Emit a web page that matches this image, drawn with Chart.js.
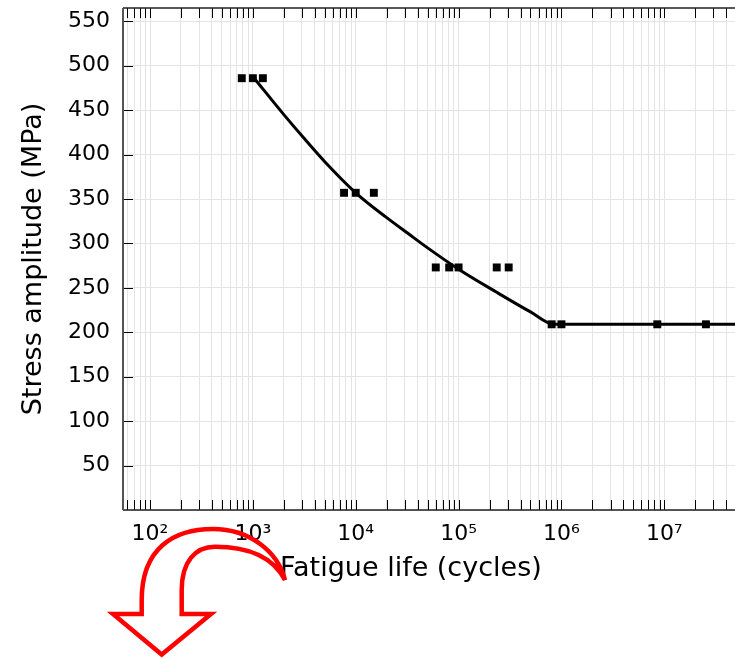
<!DOCTYPE html>
<html lang="en">
<head>
<meta charset="UTF-8" />
<title>Fatigue life</title>
<script src="https://cdn.jsdelivr.net/npm/chart.js"></script>
<style>
  body { margin: 0; background: #fff; }
  #wrap { width: 735px; height: 659px; }
  canvas { display: block; }
</style>
</head>
<body>
<div id="wrap"><canvas id="sn" width="735" height="659"></canvas></div>
<script>
// test points
const testCycles = [780, 1000, 1250, 7700, 10000, 15000, 60000, 81000, 100000, 235000, 307000, 803000, 1000000, 8550000, 25400000];
const testStress = [486, 486, 486, 357, 357, 357, 273, 273, 273, 273, 273, 209, 209, 209, 209];

// fitted S-N curve
const fitCycles = [1030, 2000, 3160, 5000, 10000, 20000, 31600, 50000, 100000, 235000, 500000, 850000, 48700000];
const fitStress = [486, 445, 418, 392, 357, 329, 312, 295, 271, 245, 223, 209, 209];

const xMin = 54.6, xMax = 48700000;
const yMin = 0, yMax = 565;
const xMajor = [1e2, 1e3, 1e4, 1e5, 1e6, 1e7];
const xMajorLabels = ['10²', '10³', '10⁴', '10⁵', '10⁶', '10⁷'];
const yStep = 50;

const xAllTicks = [];
for (let e = 1; e <= 7; e++) {
  for (let m = 1; m <= 9; m++) {
    const v = m * Math.pow(10, e);
    if (v >= xMin && v <= xMax) xAllTicks.push(v);
  }
}

Chart.defaults.font.family = "'DejaVu Sans', sans-serif";
Chart.defaults.color = '#000';

const crisp = v => Math.round(v) + 0.5;

const framePlugin = {
  id: 'frame',
  afterDatasetsDraw(chart) {
    const {ctx, chartArea: a, scales: {x, y}} = chart;
    ctx.save();
    ctx.strokeStyle = '#000';
    ctx.lineWidth = 1;
    ctx.beginPath();
    xAllTicks.forEach(v => {
      const px = crisp(x.getPixelForValue(v));
      ctx.moveTo(px, a.bottom); ctx.lineTo(px, a.bottom - 10);
      ctx.moveTo(px, a.top); ctx.lineTo(px, a.top + 10);
    });
    for (let v = yStep; v < yMax; v += yStep) {
      const py = crisp(y.getPixelForValue(v));
      ctx.moveTo(a.left, py); ctx.lineTo(a.left + 10, py);
    }
    ctx.stroke();
    // axis lines
    ctx.lineWidth = 1.5;
    ctx.strokeStyle = '#222';
    ctx.beginPath();
    ctx.moveTo(a.left, a.top); ctx.lineTo(a.right, a.top);
    ctx.moveTo(a.left, a.bottom); ctx.lineTo(a.right, a.bottom);
    ctx.stroke();
    ctx.strokeStyle = '#555';
    ctx.lineWidth = 2;
    ctx.beginPath();
    ctx.moveTo(a.left, a.top); ctx.lineTo(a.left, a.bottom);
    ctx.stroke();
    ctx.restore();
  },
  afterDraw(chart) {
    const ctx = chart.ctx;
    ctx.save();
    // x axis title, off-centre like the original
    ctx.fillStyle = '#000';
    ctx.font = "27px 'DejaVu Sans'";
    ctx.textAlign = 'left';
    ctx.textBaseline = 'middle';
    ctx.fillText('Fatigue life (cycles)', 280, 569);

    // red curved arrow
    ctx.strokeStyle = '#ff0000';
    ctx.lineWidth = 4.5;
    ctx.lineJoin = 'miter';
    ctx.miterLimit = 4;
    ctx.beginPath();
    ctx.moveTo(285, 580);
    ctx.bezierCurveTo(278, 552, 250, 529, 213, 529);
    ctx.bezierCurveTo(174, 529, 141.7, 548, 141.7, 600);
    ctx.lineTo(141.7, 614);
    ctx.lineTo(113, 614);
    ctx.lineTo(161.7, 654.5);
    ctx.lineTo(211, 614);
    ctx.lineTo(181.7, 614);
    ctx.lineTo(181.7, 590);
    ctx.bezierCurveTo(181.7, 562, 195, 546.7, 215, 546.7);
    ctx.bezierCurveTo(245, 546.7, 272, 555, 285, 580);
    ctx.closePath();
    ctx.stroke();
    ctx.restore();
  }
};

new Chart(document.getElementById('sn'), {
  type: 'scatter',
  data: {
    datasets: [
      {
        label: 'Fit',
        data: fitCycles.map((c, i) => ({x: c, y: fitStress[i]})),
        showLine: true,
        borderColor: '#000',
        borderWidth: 3,
        pointRadius: 0,
        cubicInterpolationMode: 'monotone'
      },
      {
        label: 'Tests',
        data: testCycles.map((c, i) => ({x: c, y: testStress[i]})),
        showLine: false,
        pointStyle: 'rect',
        pointRadius: 5.6,
        borderWidth: 0,
        backgroundColor: '#000'
      }
    ]
  },
  options: {
    responsive: false,
    animation: false,
    layout: { autoPadding: false, padding: { top: 8, right: 0, left: 0, bottom: 0 } },
    plugins: { legend: { display: false }, tooltip: { enabled: false } },
    scales: {
      x: {
        type: 'logarithmic',
        min: xMin,
        max: xMax,
        afterBuildTicks: s => { s.ticks = xAllTicks.map(v => ({value: v})); },
        afterFit: s => { s.height = 149; s.paddingLeft = 0; s.paddingRight = 0; },
        grid: { color: '#e4e4e4', drawTicks: false },
        border: { display: false },
        ticks: {
          autoSkip: false,
          maxRotation: 0,
          padding: 11,
          font: { size: 22 },
          callback: v => {
            const i = xMajor.indexOf(v);
            return i >= 0 ? xMajorLabels[i] : '';
          }
        }
      },
      y: {
        min: yMin,
        max: yMax,
        afterFit: s => { s.width = 123; s.paddingTop = 0; s.paddingBottom = 0; },
        grid: { color: '#e4e4e4', drawTicks: false },
        border: { display: false },
        ticks: {
          stepSize: yStep,
          includeBounds: false,
          padding: 13,
          font: { size: 22 },
          callback: v => (v === 0 ? '' : v)
        },
        title: {
          display: true,
          text: 'Stress amplitude (MPa)',
          font: { size: 27 },
          padding: { top: 18, bottom: 4 }
        }
      }
    }
  },
  plugins: [framePlugin]
});
</script>
</body>
</html>
